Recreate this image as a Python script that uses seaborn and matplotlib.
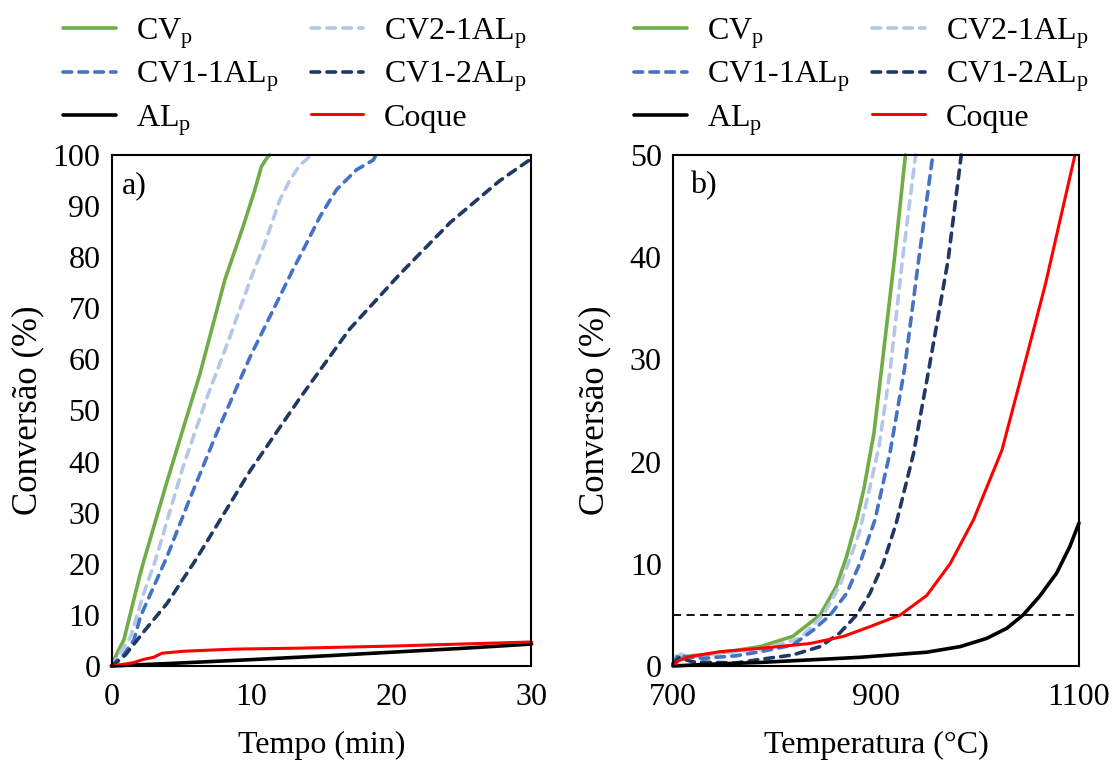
import matplotlib
matplotlib.use("Agg")
import matplotlib.pyplot as plt
import seaborn as sns
import pandas as pd

# ---------------- data ----------------
series_labels = [r"CV$_{\mathrm{p}}$", r"CV2-1AL$_{\mathrm{p}}$", r"CV1-1AL$_{\mathrm{p}}$",
                 r"CV1-2AL$_{\mathrm{p}}$", r"AL$_{\mathrm{p}}$", "Coque"]

# Panel a) conversion (%) vs time (min)
a_cvp_t = [0, 0.4, 0.88, 2.0, 2.3, 3.9, 5.4, 6.3, 8.09, 9.4, 10.24, 10.7, 11.07, 11.3]
a_cvp_c = [0, 2.5, 5.1, 17.5, 20.5, 35.5, 49, 57, 75.5, 86.0, 93.2, 97.7, 99.3, 100]

a_cv21_t = [0, 0.25, 0.52, 1.36, 2.3, 3.14, 5.1, 6.8, 8.4, 10.0, 10.95, 12.02, 12.74, 13.45, 14.16]
a_cv21_c = [0, 1.0, 2.2, 5.7, 14.2, 20.7, 38.9, 52.4, 64.0, 76.2, 82.7, 91.2, 95.1, 98.0, 99.7]

a_cv11_t = [0, 0.36, 0.76, 1.6, 2.07, 3.98, 5.5, 7.5, 9.9, 12.86, 13.93, 14.88, 16.07, 17.5, 18.69, 18.9]
a_cv11_c = [0, 1.0, 1.8, 5.1, 9.7, 21.5, 32.1, 45.5, 60.5, 77.0, 82.7, 87.9, 93.2, 97.1, 99.0, 100]

a_cv12_t = [0, 0.36, 1.0, 2.3, 3.98, 6.0, 9.9, 13.45, 17.0, 20.6, 24.2, 27.7, 30]
a_cv12_c = [0, 0.7, 2.2, 6.7, 12.3, 20.7, 38.2, 52.4, 65.9, 76.7, 86.8, 94.9, 99.3]

a_al_t = [0, 5, 10, 15, 20, 25, 30]
a_al_c = [0, 0.6, 1.25, 1.95, 2.7, 3.45, 4.3]

a_coque_t = [0, 0.5, 1.0, 1.55, 2.3, 3.0, 3.6, 5.2, 8.7, 13.5, 20, 25, 30]
a_coque_c = [0, 0.2, 0.4, 0.65, 1.3, 1.7, 2.5, 2.9, 3.3, 3.5, 3.9, 4.3, 4.7]

# Panel b) conversion (%) vs temperature (°C)
b_cvp_T = [700, 703, 710, 730, 760, 786, 818, 845, 861, 871, 881, 888, 898, 906, 918, 929]
b_cvp_c = [0.2, 0.9, 0.95, 1.1, 1.5, 1.9, 2.9, 5.0, 7.8, 10.7, 14.3, 17.3, 22.8, 29.5, 39.7, 50]

b_cv21_T = [700, 704, 712, 730, 762, 786, 825, 848, 864, 874, 884, 891, 903, 914, 926, 939]
b_cv21_c = [0.2, 1.3, 1.0, 1.0, 1.4, 1.6, 2.7, 5.0, 7.8, 10.4, 13.2, 16.2, 21.5, 29.0, 39.7, 50]

b_cv11_T = [700, 705, 730, 762, 786, 818, 838, 855, 871, 884, 899, 914, 928, 942, 956]
b_cv11_c = [0.2, 1.0, 0.75, 1.0, 1.4, 2.05, 3.5, 5.0, 7.1, 10.0, 14.3, 21.0, 29.0, 39.7, 50]

b_cv12_T = [700, 706, 720, 762, 786, 818, 845, 864, 881, 894, 907, 920, 937, 952, 971, 984]
b_cv12_c = [0.2, 0.8, 0.4, 0.3, 0.65, 1.08, 1.9, 3.2, 5.0, 7.1, 10.0, 14.0, 20.8, 29.0, 39.7, 50]

b_al_T = [700, 730, 786, 884, 950, 983, 1009, 1029, 1045, 1061, 1078, 1091, 1100]
b_al_c = [0, 0.15, 0.35, 0.85, 1.35, 1.9, 2.7, 3.7, 5.0, 6.8, 9.1, 11.7, 14.0]

b_coque_T = [701, 705, 716, 746, 786, 835, 868, 894, 924, 950, 973, 996, 1024, 1050, 1067, 1096]
b_coque_c = [0, 0.5, 0.9, 1.4, 1.73, 2.2, 2.9, 3.85, 5.0, 6.9, 10.0, 14.3, 21.1, 30.9, 37.4, 50]

threshold_b = 5

a_xticks = [0, 10, 20, 30]
a_yticks = [0, 10, 20, 30, 40, 50, 60, 70, 80, 90, 100]
b_xticks = [700, 900, 1100]
b_yticks = [0, 10, 20, 30, 40, 50]

# ---------------- style ----------------
colors = ["#70AD47", "#B4C7E7", "#4472C4", "#203864", "#000000", "#FF0000"]
dashed = [False, True, True, True, False, False]

sns.set_style("white")
plt.rcParams["font.family"] = ["Liberation Serif", "DejaVu Serif"]
plt.rcParams["mathtext.fontset"] = "custom"
plt.rcParams["mathtext.rm"] = "Liberation Serif"
plt.rcParams["mathtext.it"] = "Liberation Serif:italic"
for k in ["text.color", "axes.labelcolor", "xtick.color", "ytick.color"]:
    plt.rcParams[k] = "black"
FS = 23

fig = plt.figure(figsize=(11.14, 7.65), dpi=100)
ax1 = fig.add_axes([0.1001, 0.1294, 0.3770, 0.6680])
ax2 = fig.add_axes([0.6041, 0.1294, 0.3645, 0.6680])

a_data = [(a_cvp_t, a_cvp_c), (a_cv21_t, a_cv21_c), (a_cv11_t, a_cv11_c),
          (a_cv12_t, a_cv12_c), (a_al_t, a_al_c), (a_coque_t, a_coque_c)]
b_data = [(b_cvp_T, b_cvp_c), (b_cv21_T, b_cv21_c), (b_cv11_T, b_cv11_c),
          (b_cv12_T, b_cv12_c), (b_al_T, b_al_c), (b_coque_T, b_coque_c)]

def draw(ax, data):
    for (x, y), lab, col, dsh in zip(data, series_labels, colors, dashed):
        df = pd.DataFrame({"x": x, "y": y})
        lw = 2.6 if col != "#FF0000" else 2.2
        sns.lineplot(data=df, x="x", y="y", ax=ax, color=col, lw=lw,
                     label=lab, sort=False, estimator=None)
        ln = ax.get_lines()[-1]
        ln.set_clip_on(False)
        ln.set_solid_joinstyle("round")
        if dsh:
            ln.set_dashes((2.4, 2.0))
            ln.set_dash_capstyle("round")
            ln.set_dash_joinstyle("round")
        else:
            ln.set_solid_capstyle("round")

draw(ax1, a_data)
draw(ax2, b_data)
ax2.axhline(threshold_b, color="black", lw=1.3, dashes=(4.5, 3))

for ax, xl, xt, yt, xlim, ylim, tag, tx, ylp in [
        (ax1, "Tempo (min)", a_xticks, a_yticks, (0, 30), (0, 100), "a)", 0.025, 6),
        (ax2, "Temperatura (°C)", b_xticks, b_yticks, (700, 1100), (0, 50), "b)", 0.042, 13)]:
    ax.set_xlim(*xlim)
    ax.set_ylim(*ylim)
    ax.set_xticks(xt)
    ax.set_yticks(yt)
    ax.set_xlabel(xl, fontsize=FS, labelpad=14)
    ax.set_ylabel("Conversão (%)", fontsize=25, labelpad=ylp)
    ax.tick_params(axis="both", length=0, labelsize=FS)
    ax.tick_params(axis="x", pad=12)
    ax.tick_params(axis="y", pad=8)
    for s in ax.spines.values():
        s.set_color("black")
        s.set_linewidth(1.5)
        s.set_visible(True)
    ax.text(tx, 0.94, tag, transform=ax.transAxes, fontsize=FS, ha="left", va="center")
    h, l = ax.get_legend_handles_labels()
    order = [0, 2, 4, 1, 3, 5]
    ax.legend([h[i] for i in order], [l[i] for i in order], ncol=2, frameon=False,
              fontsize=FS, loc="upper left",
              bbox_to_anchor=((63 if ax is ax1 else 634) / 1114, 0.979),
              bbox_transform=fig.transFigure, borderpad=0, borderaxespad=0,
              handlelength=1.65, handletextpad=0.65, labelspacing=0.28,
              columnspacing=1.0 if ax is ax1 else 0.7)

fig.savefig("out.png", dpi=100)
